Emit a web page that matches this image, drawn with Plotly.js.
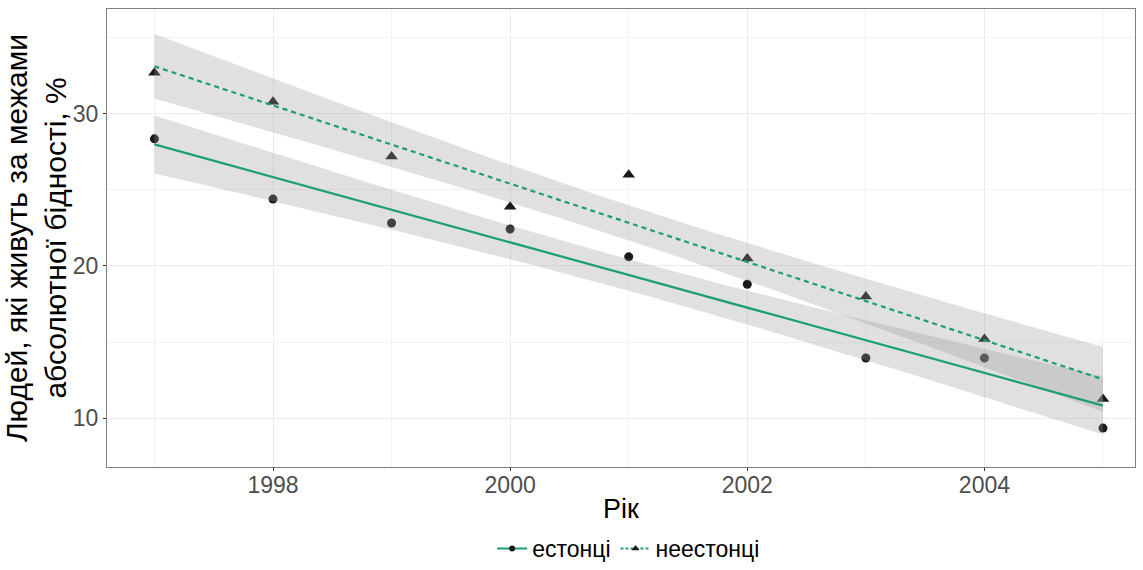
<!DOCTYPE html>
<html>
<head>
<meta charset="utf-8">
<script src="https://cdn.plot.ly/plotly-3.0.1.min.js"></script>
<style>html,body{margin:0;padding:0;background:#fff;}#chart{width:1143px;height:570px;}</style>
</head>
<body>
<div id="chart"></div>
<script>
// Data
const years = [1997, 1998, 1999, 2000, 2001, 2002, 2003, 2004, 2005];
const estonians = [28.36, 24.4, 22.83, 22.43, 20.6, 18.8, 13.95, 13.95, 9.34];
const nonEstonians = [32.7, 30.8, 27.2, 23.9, 26.0, 20.5, 18.0, 15.2, 11.25];
const seriesNames = ['естонці', 'неестонці'];
const xTickVals = [1998, 2000, 2002, 2004];
const yTickVals = [10, 20, 30];
const xTitle = 'Рік';
const yTitle = 'Людей, які живуть за межами<br>абсолютної бідності, %';

const green = '#1b9e77';
const bandFill = 'rgba(153,153,153,0.3)';

// linear regression with 95% confidence band (like geom_smooth(method="lm"))
function lmBand(x, y) {
  const n = x.length;
  const mx = x.reduce((a, b) => a + b, 0) / n;
  const my = y.reduce((a, b) => a + b, 0) / n;
  let sxx = 0, sxy = 0;
  for (let i = 0; i < n; i++) { sxx += (x[i] - mx) ** 2; sxy += (x[i] - mx) * (y[i] - my); }
  const b = sxy / sxx, a = my - b * mx;
  let sse = 0;
  for (let i = 0; i < n; i++) sse += (y[i] - (a + b * x[i])) ** 2;
  const s = Math.sqrt(sse / (n - 2));
  const t = 2.364624; // t(0.975, df=7)
  const xs = [], fit = [], lo = [], hi = [];
  const steps = 80;
  const x0 = Math.min(...x), x1 = Math.max(...x);
  for (let k = 0; k <= steps; k++) {
    const xv = x0 + (x1 - x0) * k / steps;
    const f = a + b * xv;
    const se = s * Math.sqrt(1 / n + (xv - mx) ** 2 / sxx);
    xs.push(xv); fit.push(f); lo.push(f - t * se); hi.push(f + t * se);
  }
  return { xs, fit, lo, hi };
}

const fitE = lmBand(years, estonians);
const fitN = lmBand(years, nonEstonians);

function bandTrace(f) {
  return {
    x: f.xs.concat(f.xs.slice().reverse()),
    y: f.hi.concat(f.lo.slice().reverse()),
    type: 'scatter', mode: 'lines', fill: 'toself', fillcolor: bandFill,
    line: { width: 0 }, hoverinfo: 'skip', showlegend: false
  };
}

const traces = [
  { x: years, y: estonians, type: 'scatter', mode: 'markers', showlegend: false,
    marker: { symbol: 'circle', size: 9, color: '#1a1a1a' } },
  { x: years, y: nonEstonians, type: 'scatter', mode: 'markers', showlegend: false,
    marker: { symbol: 'triangle-up', size: 11, color: '#1a1a1a' } },
  bandTrace(fitE),
  bandTrace(fitN),
  { x: fitE.xs, y: fitE.fit, type: 'scatter', mode: 'lines', showlegend: false,
    line: { color: green, width: 2.2 } },
  { x: fitN.xs, y: fitN.fit, type: 'scatter', mode: 'lines', showlegend: false,
    line: { color: green, width: 2.2, dash: '5px,4px' } },
  { x: [null], y: [null], type: 'scatter', mode: 'lines+markers', name: seriesNames[0],
    line: { color: green, width: 2 }, marker: { symbol: 'circle', size: 6, color: '#1a1a1a' } },
  { x: [null], y: [null], type: 'scatter', mode: 'lines+markers', name: seriesNames[1],
    line: { color: green, width: 2, dash: '3px,2px' }, marker: { symbol: 'triangle-up', size: 7, color: '#1a1a1a' } }
];

const layout = {
  width: 1143, height: 570,
  paper_bgcolor: '#ffffff', plot_bgcolor: '#ffffff',
  font: { family: 'Liberation Sans, Arial, sans-serif', color: '#000' },
  margin: { l: 107, r: 8, t: 9, b: 103, autoexpand: false },
  showlegend: true,
  legend: {
    orientation: 'h', xref: 'container', yref: 'container',
    x: 0.55, xanchor: 'center', y: 0.0, yanchor: 'bottom',
    font: { size: 23, color: '#000' }, itemwidth: 30, tracegroupgap: 0,
    bgcolor: 'rgba(0,0,0,0)'
  },
  annotations: [
    { text: xTitle, xref: 'paper', yref: 'paper', x: 0.5, y: -0.092, xanchor: 'center', yanchor: 'middle',
      showarrow: false, font: { size: 27, color: '#000' } }
  ],
  xaxis: {
    range: [1996.6, 2005.27], tickvals: xTickVals, ticktext: xTickVals.map(String),
    showgrid: true, gridcolor: '#ebebeb', gridwidth: 1,
    minor: { tickvals: [1997, 1999, 2001, 2003, 2005], showgrid: true, gridcolor: '#f2f2f2', gridwidth: 1 },
    zeroline: false, showline: true, mirror: true, linecolor: '#7f7f7f', linewidth: 1,
    ticks: 'outside', ticklen: 3, tickcolor: '#333', tickwidth: 1, ticklabelstandoff: -6,
    tickfont: { size: 23, color: '#4d4d4d' }
  },
  yaxis: {
    range: [6.78, 36.9], tickvals: yTickVals, ticktext: yTickVals.map(String),
    showgrid: true, gridcolor: '#ebebeb', gridwidth: 1,
    minor: { tickvals: [15, 25, 35], showgrid: true, gridcolor: '#f2f2f2', gridwidth: 1 },
    zeroline: false, showline: true, mirror: true, linecolor: '#7f7f7f', linewidth: 1,
    ticks: 'outside', ticklen: 3, tickcolor: '#333', tickwidth: 1,
    tickfont: { size: 23, color: '#4d4d4d' },
    title: { text: yTitle, font: { size: 30, color: '#000' }, standoff: 4 }
  }
};

Plotly.newPlot('chart', traces, layout, { staticPlot: true, displayModeBar: false });
</script>
</body>
</html>
